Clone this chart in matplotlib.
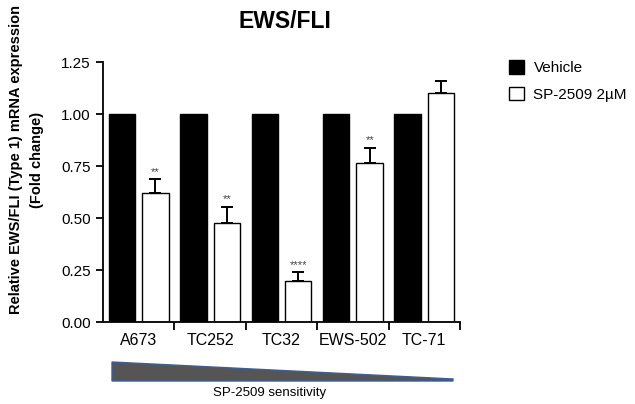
import matplotlib
matplotlib.use("Agg")
import matplotlib.pyplot as plt
import numpy as np
from matplotlib.patches import Patch, Polygon

plt.rcParams['font.family'] = ['Liberation Sans', 'DejaVu Sans']

cell_lines = ["A673", "TC252", "TC32", "EWS-502", "TC-71"]
vehicle = [1.0, 1.0, 1.0, 1.0, 1.0]
sp2509 = [0.622, 0.474, 0.199, 0.763, 1.102]
sp2509_err = [0.064, 0.080, 0.040, 0.075, 0.055]
signif = ["**", "**", "****", "**", ""]
yticks = [0.00, 0.25, 0.50, 0.75, 1.00, 1.25]

fig = plt.figure(figsize=(6.35, 4.04), dpi=100)
W, H = 635, 404
ax = fig.add_axes([103 / W, 1 - 322 / H, (460 - 103) / W, (322 - 62) / H])

x = np.arange(len(cell_lines))
bw = 0.37
off = 0.235
ax.bar(x - off, vehicle, bw, color="black", edgecolor="black", linewidth=1)
ax.bar(x + off, sp2509, bw, color="white", edgecolor="black", linewidth=1,
       yerr=[np.zeros(len(sp2509)), sp2509_err],
       error_kw=dict(ecolor="black", elinewidth=1.4, capsize=4.5, capthick=1.4))
for xi, v, e, s in zip(x, sp2509, sp2509_err, signif):
    if s:
        ax.text(xi + off, v + e + 0.012, s, ha="center", va="bottom",
                fontsize=8, color="#444444")

ax.set_xlim(-0.5, 4.5)
ax.set_ylim(0, 1.25)
ax.set_yticks(yticks)
ax.set_yticklabels([f"{t:.2f}" for t in yticks], fontsize=11)
ax.set_xticks(x)
ax.set_xticklabels(cell_lines, fontsize=11.5)
ax.tick_params(axis="x", which="major", length=0, pad=8)
ax.set_xticks(np.arange(0.5, 5.0, 1.0), minor=True)
ax.tick_params(axis="x", which="minor", length=6, width=1.3, direction="out")
ax.tick_params(axis="y", length=5, width=1.3, direction="out", pad=4)
for sp in ["top", "right"]:
    ax.spines[sp].set_visible(False)
for sp in ["left", "bottom"]:
    ax.spines[sp].set_linewidth(1.3)

fig.text(285 / W, 1 - 21 / H, "EWS/FLI", fontsize=16.5, fontweight="bold",
         ha="center", va="center")
fig.text(16 / W, 1 - 160 / H, "Relative EWS/FLI (Type 1) mRNA expression",
         fontsize=10.5, fontweight="bold", rotation=90, ha="center", va="center")
fig.text(37 / W, 1 - 160 / H, "(Fold change)",
         fontsize=10.5, fontweight="bold", rotation=90, ha="center", va="center")

handles = [Patch(facecolor="black", edgecolor="black", label="Vehicle"),
           Patch(facecolor="white", edgecolor="black", label="SP-2509 2\u00b5M")]
fig.legend(handles=handles, loc="upper left", bbox_to_anchor=(509 / W, 1 - 60 / H),
           frameon=False, fontsize=11, handlelength=1.0, handleheight=1.0,
           handletextpad=0.6, labelspacing=0.75, borderaxespad=0, borderpad=0)

# sensitivity wedge
wax = fig.add_axes([0, 0, 1, 1], facecolor="none")
wax.set_xlim(0, W)
wax.set_ylim(H, 0)
wax.axis("off")
tri = Polygon([[112, 362], [453, 379], [453, 381], [112, 381]], closed=True,
              facecolor="#555555", edgecolor="#3b5f96", linewidth=1.0)
wax.add_patch(tri)
wax.text(270, 393, "SP-2509 sensitivity", ha="center", va="center", fontsize=9.5)

fig.savefig("out.png", dpi=100, facecolor="white")
